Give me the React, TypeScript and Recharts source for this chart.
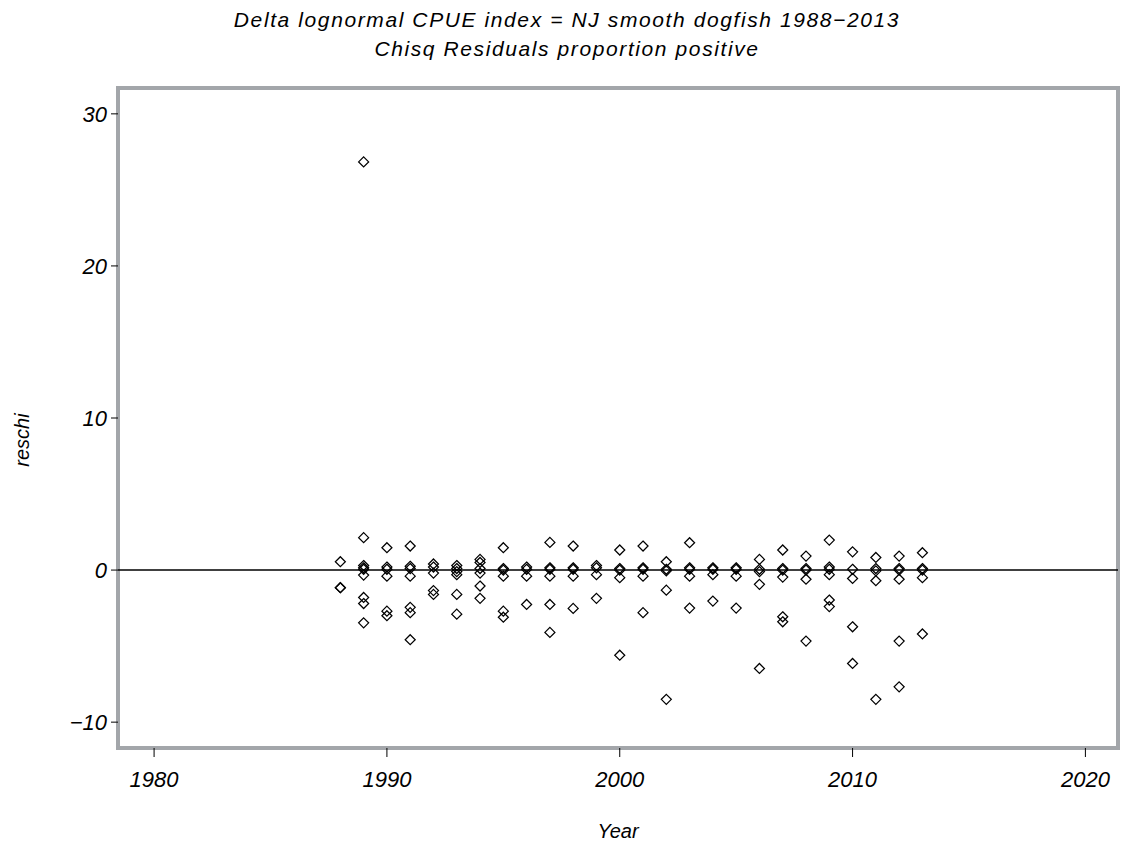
import { ScatterChart, Scatter, XAxis, YAxis, ReferenceLine, ReferenceArea } from 'recharts'

const years = [
  1988, 1989, 1990, 1991, 1992, 1993, 1994, 1995, 1996, 1997, 1998, 1999, 2000,
  2001, 2002, 2003, 2004, 2005, 2006, 2007, 2008, 2009, 2010, 2011, 2012, 2013,
]

// residuals per year, same order as `years`
const reschi = [
  [0.55, -1.16, -1.16],
  [26.84, 2.13, 0.3, 0.15, 0.05, -0.33, -1.8, -2.2, -3.47],
  [1.47, 0.2, 0.05, -0.4, -2.7, -3.0],
  [1.58, 0.25, 0.1, -0.4, -2.45, -2.8, -4.58],
  [0.4, 0.2, -0.2, -1.35, -1.6],
  [0.3, 0.1, -0.1, -0.3, -1.6, -2.9],
  [0.7, 0.5, 0.1, -0.2, -1.05, -1.86],
  [1.47, 0.1, 0.0, -0.4, -2.7, -3.1],
  [0.2, 0.05, -0.4, -2.26],
  [1.82, 0.15, 0.05, -0.4, -2.26, -4.1],
  [1.58, 0.15, 0.05, -0.4, -2.52],
  [0.3, 0.15, -0.3, -1.86],
  [1.32, 0.1, 0.0, -0.5, -5.6],
  [1.58, 0.15, 0.05, -0.4, -2.8],
  [0.55, 0.05, -0.05, -1.32, -8.5],
  [1.8, 0.15, 0.05, -0.4, -2.5],
  [0.15, 0.05, -0.3, -2.04],
  [0.15, 0.05, -0.4, -2.5],
  [0.7, 0.05, -0.1, -0.94, -6.47],
  [1.32, 0.1, 0.0, -0.46, -3.07, -3.4],
  [0.92, 0.1, 0.0, -0.6, -4.67],
  [1.97, 0.2, 0.05, -0.3, -1.97, -2.4],
  [1.2, 0.05, -0.55, -3.73, -6.14],
  [0.83, 0.1, -0.05, -0.7, -8.5],
  [0.92, 0.1, 0.0, -0.6, -4.67, -7.68],
  [1.14, 0.1, 0.0, -0.5, -4.2],
]

const xTicks = [1980, 1990, 2000, 2010, 2020]
const yTicks = [-10, 0, 10, 20, 30]

const X_DOMAIN: [number, number] = [1978.45, 2021.4]
const Y_DOMAIN: [number, number] = [-11.7, 31.7]

const FONT = '"Liberation Sans", Arial, sans-serif'
const FRAME = '#a3a6aa'

const points = years.flatMap((yr, i) => reschi[i].map(v => ({ year: yr, reschi: v })))

function Diamond(props: any) {
  const { cx, cy } = props
  const r = 5
  return (
    <polygon
      points={`${cx},${cy - r} ${cx + r},${cy} ${cx},${cy + r} ${cx - r},${cy}`}
      fill="none"
      stroke="#000"
      strokeWidth={1.25}
    />
  )
}

function YLabel() {
  const x = 22
  const y = 440
  return (
    <text x={x} y={y} transform={`rotate(-90 ${x} ${y})`} textAnchor="middle" dominantBaseline="central"
      fontFamily={FONT} fontStyle="italic" fontSize={20} fill="#000">
      reschi
    </text>
  )
}

const tickStyle = { fontFamily: FONT, fontStyle: 'italic', fontSize: 22, fill: '#000' }

export default function App() {
  return (
    <div style={{ position: 'relative', width: 1121, height: 846, background: '#fff' }}>
      <style>{'body{margin:0}'}</style>
      <div style={{ position: 'absolute', top: 5, left: 0, width: 1134, textAlign: 'center', fontFamily: FONT, fontStyle: 'italic', fontSize: 21, letterSpacing: 1.6, lineHeight: '29px' }}>
        <div>Delta lognormal CPUE index = NJ smooth dogfish 1988−2013</div>
        <div>Chisq Residuals proportion positive</div>
      </div>
      <ScatterChart width={1121} height={846} margin={{ top: 88, right: 3, bottom: 0, left: 0 }} style={{ position: 'absolute', top: 0, left: 0 }}>
        <XAxis
          type="number"
          dataKey="year"
          domain={X_DOMAIN}
          ticks={xTicks}
          allowDataOverflow
          height={98}
          tick={tickStyle}
          tickSize={9}
          tickMargin={14}
          tickLine={{ stroke: '#000' }}
          axisLine={false}
          label={{ value: 'Year', position: 'insideBottom', offset: 8, style: { fontFamily: FONT, fontStyle: 'italic', fontSize: 20, fill: '#000' } }}
        />
        <YAxis
          type="number"
          dataKey="reschi"
          domain={Y_DOMAIN}
          ticks={yTicks}
          allowDataOverflow
          width={118}
          tick={tickStyle}
          tickSize={7}
          tickMargin={4}
          tickLine={{ stroke: '#000' }}
          axisLine={false}
          tickFormatter={(v: number) => (v < 0 ? `−${Math.abs(v)}` : `${v}`)}
          label={{ content: YLabel }}
        />
        <ReferenceArea x1={X_DOMAIN[0]} x2={X_DOMAIN[1]} y1={Y_DOMAIN[0]} y2={Y_DOMAIN[1]} fill="none" stroke={FRAME} strokeWidth={4} fillOpacity={0} strokeOpacity={1} ifOverflow="visible" />
        <ReferenceLine y={0} stroke="#000" strokeWidth={1.5} strokeOpacity={1} />
        <Scatter data={points} shape={<Diamond />} isAnimationActive={false} />
      </ScatterChart>
    </div>
  )
}
